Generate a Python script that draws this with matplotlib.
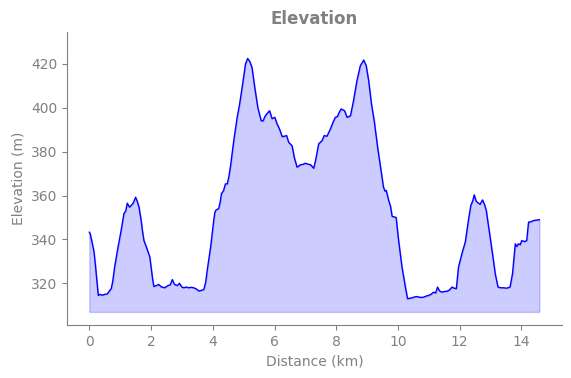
import matplotlib
matplotlib.use('Agg')
import matplotlib.pyplot as plt
import numpy as np

# distance (km) and elevation (m)
distance = [0.0, 0.03, 0.10, 0.15, 0.20, 0.25, 0.29, 0.35, 0.42, 0.50, 0.58, 0.65, 0.71, 0.76, 0.82,
            0.93, 1.03, 1.12, 1.18, 1.23, 1.30, 1.36, 1.42, 1.50, 1.55, 1.61, 1.68, 1.72, 1.77,
            1.85, 1.96, 2.00, 2.05, 2.09, 2.17, 2.25, 2.33, 2.44, 2.55, 2.62, 2.69, 2.76, 2.85,
            2.92, 3.00, 3.06, 3.14, 3.22, 3.30, 3.38, 3.46, 3.55, 3.63, 3.71, 3.77, 3.82, 3.93,
            4.03, 4.07, 4.11, 4.19, 4.24, 4.28, 4.35, 4.41, 4.47, 4.52, 4.57, 4.68, 4.79, 4.87,
            4.95, 5.06, 5.13, 5.20, 5.27, 5.36, 5.46, 5.57, 5.63, 5.69, 5.74, 5.84, 5.92, 6.01,
            6.08, 6.16, 6.25, 6.32, 6.39, 6.46, 6.57, 6.64, 6.73, 6.84, 6.92, 7.00, 7.08, 7.17,
            7.27, 7.33, 7.43, 7.54, 7.61, 7.70, 7.81, 7.90, 7.97, 8.04, 8.10, 8.16, 8.27, 8.35,
            8.46, 8.56, 8.67, 8.78, 8.89, 8.97, 9.05, 9.14, 9.23, 9.34, 9.45, 9.53, 9.58, 9.62,
            9.70, 9.76, 9.81, 9.94, 10.02, 10.13, 10.24, 10.31, 10.38, 10.45, 10.53, 10.61,
            10.72, 10.83, 10.91, 10.99, 11.07, 11.15, 11.22, 11.28, 11.35, 11.42, 11.50, 11.59,
            11.67, 11.75, 11.82, 11.89, 11.96, 12.07, 12.18, 12.28, 12.36, 12.42, 12.47, 12.53,
            12.58, 12.66, 12.74, 12.80, 12.86, 12.97, 13.07, 13.15, 13.24, 13.32, 13.40, 13.52,
            13.63, 13.71, 13.80, 13.85, 13.90, 13.96, 14.01, 14.10, 14.17, 14.23, 14.30, 14.39,
            14.48, 14.58]
elevation = [343.3, 342.5, 338.0, 334.5, 328.0, 320.5, 314.5, 315.0, 314.6, 315.0, 315.2, 316.5, 317.6, 321.0, 327.4,
             336.5, 344.0, 351.7, 353.0, 356.5, 354.7, 355.5, 356.5, 359.2, 357.5, 354.7, 348.6, 344.0, 339.5,
             336.5, 332.0, 327.4, 322.0, 318.6, 319.0, 319.5, 318.4, 318.0, 319.0, 319.3, 321.7, 319.5, 319.0,
             320.0, 318.3, 318.0, 318.3, 318.0, 318.2, 318.0, 317.5, 316.5, 316.8, 317.2, 320.5, 326.0, 336.5,
             348.6, 352.5, 353.5, 354.0, 357.0, 360.8, 362.3, 365.3, 365.3, 368.5, 372.9, 385.0, 395.6, 401.7,
             409.2, 419.9, 422.4, 421.0, 418.3, 409.2, 400.0, 394.0, 394.0, 396.0, 397.0, 398.6, 395.0, 395.6,
             392.7, 390.3, 386.8, 387.0, 387.3, 384.2, 382.6, 377.4, 372.9, 374.0, 374.2, 374.7, 374.3, 374.0,
             372.4, 376.0, 383.5, 385.0, 387.3, 387.0, 390.3, 393.5, 395.6, 396.0, 398.0, 399.4, 398.6, 395.6,
             396.3, 403.2, 412.3, 419.1, 421.7, 419.1, 412.3, 401.7, 394.0, 382.0, 371.4, 363.8, 362.0, 362.3,
             357.7, 355.0, 350.5, 350.0, 339.5, 327.4, 318.3, 313.0, 313.2, 313.4, 313.8, 314.0,
             313.6, 313.7, 314.2, 314.5, 315.0, 316.0, 315.6, 318.3, 316.5, 316.0, 316.3, 316.4,
             317.0, 318.3, 317.8, 317.6, 327.4, 333.5, 338.8, 348.6, 355.5, 357.5, 360.3, 357.5,
             356.8, 356.0, 358.0, 356.0, 353.2, 342.6, 332.7, 324.4, 318.3, 318.0, 318.0, 317.8,
             318.3, 324.4, 338.0, 336.8, 338.0, 337.6, 339.5, 339.0, 339.5, 347.9, 348.0, 348.6,
             348.8, 349.0]

x = np.array(distance)
y = np.array(elevation)
base = y.min() - 6

fig, ax = plt.subplots(figsize=(5.71, 3.78), dpi=100)
fig.subplots_adjust(left=0.117, right=0.984, bottom=0.140, top=0.915)

ax.fill_between(x, y, base, color='blue', alpha=0.2)
ax.plot(x, y, color='blue', linewidth=1)
ax.set_ylim(y.min() - 12, y.max() + 12)

ax.set_title('Elevation', color='gray', fontweight='bold', fontsize=12)
ax.set_xlabel('Distance (km)', color='gray')
ax.set_ylabel('Elevation (m)', color='gray')
ax.tick_params(colors='gray')
for side in ['top', 'right']:
    ax.spines[side].set_visible(False)
for side in ['left', 'bottom']:
    ax.spines[side].set_color('gray')

fig.savefig('out.png', dpi=100)
